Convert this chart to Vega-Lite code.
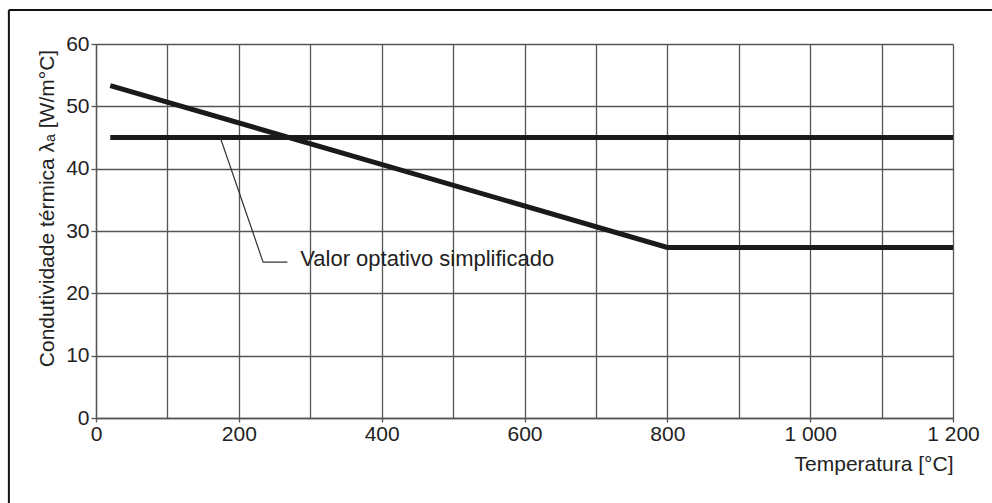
{
  "$schema": "https://vega.github.io/schema/vega-lite/v6.json",
  "width": 857,
  "height": 374,
  "autosize": {"type": "none"},
  "padding": {"left": 96, "top": 44, "right": 39, "bottom": 85},
  "background": "white",
  "config": {"font": "Liberation Sans", "view": {"stroke": null}},
  "datasets": {
    "curves": [
      {"series": "steel", "t": 20, "k": 53.33},
      {"series": "steel", "t": 800, "k": 27.36},
      {"series": "steel", "t": 1200, "k": 27.36},
      {"series": "simplified", "t": 20, "k": 45},
      {"series": "simplified", "t": 1200, "k": 45}
    ],
    "leader": [
      {"t": 174, "k": 45},
      {"t": 234, "k": 25},
      {"t": 268, "k": 25}
    ],
    "labels": [
      {"t": 286, "k": 24.4, "label": "Valor optativo simplificado"}
    ],
    "frame": [
      {"t": -122, "t2": 1300, "k": 65.45, "k2": 65.45},
      {"t": -122, "t2": -122, "k": 65.45, "k2": -20}
    ]
  },
  "encoding": {
    "x": {
      "field": "t",
      "type": "quantitative",
      "scale": {"domain": [0, 1200], "nice": false, "zero": false},
      "axis": {
        "values": [0, 100, 200, 300, 400, 500, 600, 700, 800, 900, 1000, 1100, 1200],
        "labelExpr": "datum.value % 200 != 0 ? '' : (datum.value >= 1000 ? '1 ' + format(datum.value % 1000, '03d') : toString(datum.value))",
        "labelFlush": false,
        "labelFontSize": 21,
        "labelColor": "#222222",
        "labelPadding": 1,
        "grid": true,
        "gridColor": "#555555",
        "gridWidth": 1.3,
        "gridOpacity": 1,
        "domainColor": "#555555",
        "domainWidth": 1.3,
        "tickColor": "#555555",
        "tickWidth": 1.3,
        "tickSize": {"condition": {"test": "datum.value % 200 == 0", "value": 4}, "value": 0},
        "title": "Temperatura [°C]",
        "titleFontSize": 21,
        "titleFontWeight": "normal",
        "titleColor": "#222222",
        "titleAnchor": "end",
        "titleAlign": "right",
        "titleX": 857,
        "titleY": 52,
        "titleBaseline": "alphabetic"
      }
    },
    "y": {
      "field": "k",
      "type": "quantitative",
      "scale": {"domain": [0, 60], "nice": false},
      "axis": {
        "values": [0, 10, 20, 30, 40, 50, 60],
        "labelFontSize": 21,
        "labelColor": "#222222",
        "labelPadding": 2,
        "grid": true,
        "gridColor": "#555555",
        "gridWidth": 1.3,
        "gridOpacity": 1,
        "domainColor": "#555555",
        "domainWidth": 1.3,
        "tickColor": "#555555",
        "tickWidth": 1.3,
        "tickSize": 5,
        "title": "Condutividade térmica λₐ [W/m°C]",
        "titleFontSize": 21,
        "titleFontWeight": "normal",
        "titleColor": "#222222",
        "titleAngle": -90,
        "titleAlign": "center",
        "titleBaseline": "alphabetic",
        "titleX": -43,
        "titleY": 164
      }
    }
  },
  "layer": [
    {
      "data": {"name": "curves"},
      "transform": [{"filter": "datum.series == 'steel'"}],
      "mark": {"type": "line", "color": "#1a1a1a", "strokeWidth": 5, "strokeCap": "butt", "clip": false}
    },
    {
      "data": {"name": "curves"},
      "transform": [{"filter": "datum.series == 'simplified'"}],
      "mark": {"type": "line", "color": "#1a1a1a", "strokeWidth": 5, "strokeCap": "butt"}
    },
    {
      "data": {"name": "leader"},
      "mark": {"type": "line", "color": "#333333", "strokeWidth": 1.2}
    },
    {
      "data": {"name": "labels"},
      "mark": {"type": "text", "align": "left", "baseline": "alphabetic", "fontSize": 22, "color": "#222222"},
      "encoding": {"text": {"field": "label"}}
    },
    {
      "data": {"name": "frame"},
      "mark": {"type": "rule", "color": "#111111", "strokeWidth": 2},
      "encoding": {"x2": {"field": "t2"}, "y2": {"field": "k2"}}
    }
  ]
}
